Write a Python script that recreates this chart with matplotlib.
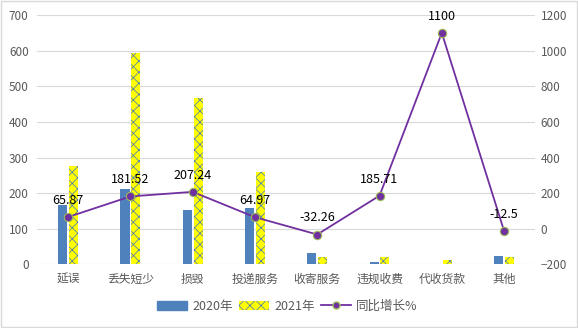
import numpy as np
from matplotlib import pyplot as plt
from matplotlib.lines import Line2D
from matplotlib.patches import Patch, Rectangle

plt.rcParams['font.family'] = ['Noto Sans CJK SC', 'DejaVu Sans']
plt.rcParams['hatch.linewidth'] = 0.5

categories = ['延误', '丢失短少', '损毁', '投递服务', '收寄服务', '违规收费', '代收货款', '其他']
y2020 = [167, 211, 152, 157, 31, 7, 1, 24]
y2021 = [277, 594, 467, 259, 21, 20, 12, 21]
growth = [65.87, 181.52, 207.24, 64.97, -32.26, 185.71, 1100, -12.5]
growth_labels = ['65.87', '181.52', '207.24', '64.97', '-32.26', '185.71', '1100', '-12.5']

blue = '#4F81BD'
yellow = '#FFFF00'
hatch_blue = '#4472C4'
purple = '#7030A0'
grid = '#D9D9D9'
tick_col = '#595959'

fig = plt.figure(figsize=(5.78, 3.28), dpi=100)
ax = fig.add_axes([0.064, 0.194, 0.862, 0.76])
ax2 = ax.twinx()

x = np.arange(len(categories))
w = 0.145
ax.bar(x - 0.087, y2020, width=w, color=blue, zorder=2)
ax.bar(x + 0.087, y2021, width=w, facecolor=yellow, hatch='/\\/\\/\\', edgecolor=hatch_blue, linewidth=0, zorder=2)

ax.set_ylim(0, 700)
ax.set_yticks(range(0, 701, 100))
ax.set_xlim(-0.5, len(categories) - 0.5)
ax.set_xticks(x)
ax.set_xticklabels(categories)
ax.yaxis.grid(True, color=grid, linewidth=0.8, zorder=0)
ax.set_axisbelow(True)

ax2.plot(x, growth, color=purple, linewidth=1.3, marker='o', markersize=6,
         markerfacecolor=purple, markeredgecolor='#9BBB59', markeredgewidth=0.8, zorder=3)
for xi, g, lab in zip(x, growth, growth_labels):
    ax2.annotate(lab, (xi, g), xytext=(0, 12), textcoords='offset points',
                 ha='center', va='center', fontsize=9, color='black')
ax2.set_ylim(-200, 1200)
ax2.set_yticks(range(-200, 1201, 200))

for a in (ax, ax2):
    for s in a.spines.values():
        s.set_visible(False)
    a.tick_params(length=0, labelsize=8.5, colors=tick_col)
ax.tick_params(axis='y', pad=6)
ax.tick_params(axis='x', pad=6, labelsize=8.5)
ax2.tick_params(axis='y', pad=4)

handles = [Patch(facecolor=blue, edgecolor=blue),
           Patch(facecolor=yellow, edgecolor=hatch_blue, hatch='/\\/\\/\\', linewidth=0),
           Line2D([0], [0], color=purple, linewidth=1.3, marker='o', markersize=5,
                  markerfacecolor=purple, markeredgecolor='#9BBB59')]
fig.legend(handles, ['2020年', '2021年', '同比增长%'], loc='center', bbox_to_anchor=(0.497, 0.067),
           ncol=3, frameon=False, fontsize=9, handlelength=2.4, handleheight=0.7,
           columnspacing=0.5, handletextpad=0.4, labelcolor=tick_col)

fig.patches.append(Rectangle((0.001, 0.002), 0.997, 0.995, transform=fig.transFigure,
                             fill=False, edgecolor=grid, linewidth=1))

fig.savefig('out.png', dpi=100)
